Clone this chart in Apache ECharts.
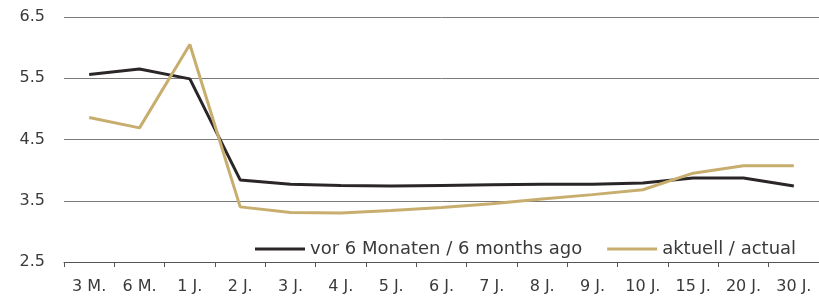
<!DOCTYPE html>
<html>
<head>
<meta charset="utf-8">
<script src="https://cdn.jsdelivr.net/npm/echarts@6/dist/echarts.min.js"></script>
<style>
html,body{margin:0;padding:0;background:#fff;}
#container{width:819px;height:299px;}
</style>
</head>
<body>
<div id="container"></div>
<script>
// Laufzeiten / maturities
var categories = ['3 M.','6 M.','1 J.','2 J.','3 J.','4 J.','5 J.','6 J.','7 J.','8 J.','9 J.','10 J.','15 J.','20 J.','30 J.'];
var vorSechsMonaten = [5.56,5.65,5.49,3.84,3.77,3.75,3.74,3.75,3.76,3.77,3.77,3.79,3.87,3.87,3.74];
var aktuell = [4.86,4.69,6.05,3.40,3.31,3.30,3.34,3.39,3.45,3.53,3.60,3.68,3.95,4.07,4.07];
var yTicks = [2.5,3.5,4.5,5.5,6.5];

var e={
	init:function(){
		var myChart = echarts.init(document.getElementById('container'));
		var font = '"DejaVu Sans", sans-serif';
		var option = {
			animation:false,
			backgroundColor:'#fff',
			color:['#2a2627','#c8ae6e'],
			grid:{left:64,right:0,top:17,bottom:37,containLabel:false},
			legend:{
				left:250,top:235,
				icon:'rect',itemWidth:50,itemHeight:3,itemGap:25,
				textStyle:{fontFamily:font,fontSize:18,color:'#3a3a3a'},
				data:['vor 6 Monaten / 6 months ago','aktuell / actual']
			},
			xAxis:{
				type:'category',
				data:categories,
				boundaryGap:true,
				axisLine:{lineStyle:{color:'#555',width:1}},
				axisTick:{show:true,length:5,lineStyle:{color:'#555'}},
				axisLabel:{fontFamily:font,fontSize:16,color:'#3a3a3a',margin:17,interval:0}
			},
			yAxis:{
				type:'value',
				min:2.5,max:6.5,interval:0.5,
				axisLine:{show:false},
				axisTick:{show:false},
				axisLabel:{
					fontFamily:font,fontSize:16,color:'#3a3a3a',margin:19,
					formatter:function(v){return yTicks.indexOf(v)>=0 ? v.toFixed(1) : '';}
				},
				splitLine:{show:true,lineStyle:{color:['#7a7a7a','rgba(0,0,0,0)'],width:1}}
			},
			series:[{
				name:'vor 6 Monaten / 6 months ago',
				type:'line',
				data:vorSechsMonaten,
				symbol:'none',
				lineStyle:{width:3}
			},{
				name:'aktuell / actual',
				type:'line',
				data:aktuell,
				symbol:'none',
				lineStyle:{width:3}
			}]
		};
		myChart.setOption(option);
	}
};
e.init();
</script>
</body>
</html>
